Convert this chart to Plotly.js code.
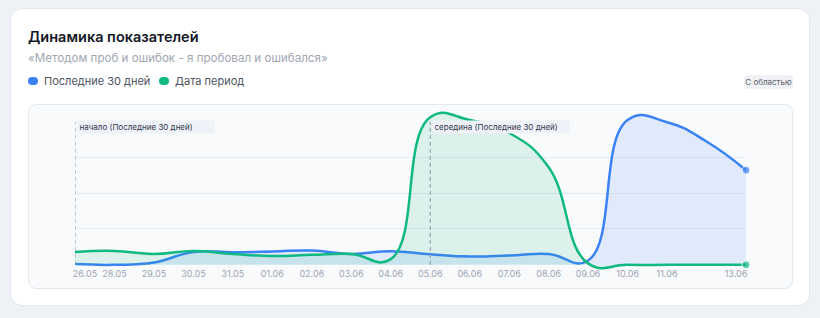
<!DOCTYPE html>
<html><head><meta charset="utf-8">
<script src="https://cdn.plot.ly/plotly-3.0.1.min.js"></script>
<style>
html,body{margin:0;padding:0;width:820px;height:318px;background:#eef2f7;font-family:Inter,"Noto Sans",sans-serif;overflow:hidden}
#card{position:absolute;left:10px;top:8px;width:798px;height:296px;background:#fff;border:1px solid #e2e7ef;border-radius:12px}
#title{position:absolute;left:28px;top:28px;font-size:14.5px;font-weight:600;color:#151826}
#sub{position:absolute;left:28px;top:51px;font-size:11.6px;color:#a0a6b2}
.it{position:absolute;top:74px;display:flex;align-items:center;font-size:11px;color:#4d5361;white-space:nowrap;height:14px}
.dot{display:inline-block;width:10px;height:8px;border-radius:5px;margin-right:6px}
#btn{position:absolute;left:744px;top:75px;width:49px;height:14px;border-radius:4px;background:#f0f1f4;font-size:8px;color:#5a5f6b;text-align:center;line-height:14px}
#box{position:absolute;left:28px;top:104px;width:763px;height:183px;background:#f9fafb;border:1px solid #e3e8ef;border-radius:8px}
#chart{position:absolute;left:0;top:0;width:820px;height:318px}
</style></head>
<body>
<div id="card"></div>
<div id="title">Динамика показателей</div>
<div id="sub">«Методом проб и ошибок - я пробовал и ошибался»</div>
<div class="it" style="left:28px"><span class="dot" style="background:#3b82f6"></span>Последние 30 дней</div>
<div class="it" style="left:159px"><span class="dot" style="background:#10b981"></span>Дата период</div>
<div id="btn">С областью</div>
<div id="box"></div>
<div id="chart"></div>
<script>
// data
const days = ['27.05','28.05','29.05','30.05','31.05','01.06','02.06','03.06','04.06','05.06','06.06','07.06','08.06','09.06','10.06','11.06','12.06','13.06'];
const last30 = [0.5,0,1.6,9,8.8,9.3,10,7.6,9.5,7.4,5.8,6.5,7.6,3,101,99.5,86,66];
const period = [9,9.7,7.6,9.7,7.6,6.2,7,7.6,4,103,101,92,68,1,0,0,0,0];
const tickLabels = ['26.05','28.05','29.05','30.05','31.05','01.06','02.06','03.06','04.06','05.06','06.06','07.06','08.06','09.06','10.06','11.06','13.06'];
const markers = [{day:'27.05', text:'начало (Последние 30 дней)'},{day:'05.06', text:'середина (Последние 30 дней)'}];
const gridVals = [25,50,75];

const xs = days.map((d,i)=>i);
const n = days.length;
const pxPerDay = (746-75)/(n-1);
const tickvals = tickLabels.map((l,i)=>{
  if(i===0) return 10/pxPerDay;
  if(i===tickLabels.length-1) return (n-1) - 10/pxPerDay;
  return days.indexOf(l);
});
const lastSize = arr => arr.map((v,i)=> i===arr.length-1 ? 8 : 0);

const blue = '#3b82f6', green = '#10b981';
const traces = [
 {x:xs, y:last30, type:'scatter', mode:'lines+markers', line:{color:blue,width:2.5,shape:'spline',smoothing:1.3},
  marker:{size:lastSize(last30),color:blue}, fill:'tozeroy', fillcolor:'rgba(59,130,246,0.13)', hoverinfo:'skip', cliponaxis:false},
 {x:xs, y:period, type:'scatter', mode:'lines+markers', line:{color:green,width:2.5,shape:'spline',smoothing:1.3},
  marker:{size:lastSize(period),color:green}, fill:'tozeroy', fillcolor:'rgba(16,185,129,0.12)', hoverinfo:'skip', cliponaxis:false}
];

const shapes = markers.map(m=>({type:'line', xref:'x', yref:'y', x0:days.indexOf(m.day), x1:days.indexOf(m.day), y0:0, y1:99.5,
  line:{color:'#8a91a3', width:1, dash:'4px,3px'}, layer:'above'}));
const annotations = markers.map(m=>({xref:'x', yref:'y', x:days.indexOf(m.day), y:95.8, xanchor:'left', yanchor:'middle', xshift:2,
  text:m.text, showarrow:false, align:'left', width:133, height:9, borderpad:1.5, bgcolor:'#eef2f8',
  font:{family:'Inter, sans-serif', size:8, color:'#33384a'}}));

const layout = {
  width:820, height:318, margin:{l:75, r:74, t:109.5, b:45.8},
  paper_bgcolor:'rgba(0,0,0,0)', plot_bgcolor:'rgba(0,0,0,0)', showlegend:false,
  xaxis:{range:[0,n-1], showgrid:false, zeroline:false, showline:false, ticks:'', tickvals:tickvals, ticktext:tickLabels,
    anchor:'free', position:0.03, tickfont:{family:'Inter, sans-serif', size:9, color:'#9ca3b4'}, fixedrange:true},
  yaxis:{range:[-5,108], tickvals:gridVals, showticklabels:false, showgrid:true, gridcolor:'#e7eaf2', gridwidth:1, zeroline:false, showline:false, ticks:'', fixedrange:true},
  shapes:shapes, annotations:annotations
};
Plotly.newPlot('chart', traces, layout, {displayModeBar:false, staticPlot:true});
</script>
</body></html>
